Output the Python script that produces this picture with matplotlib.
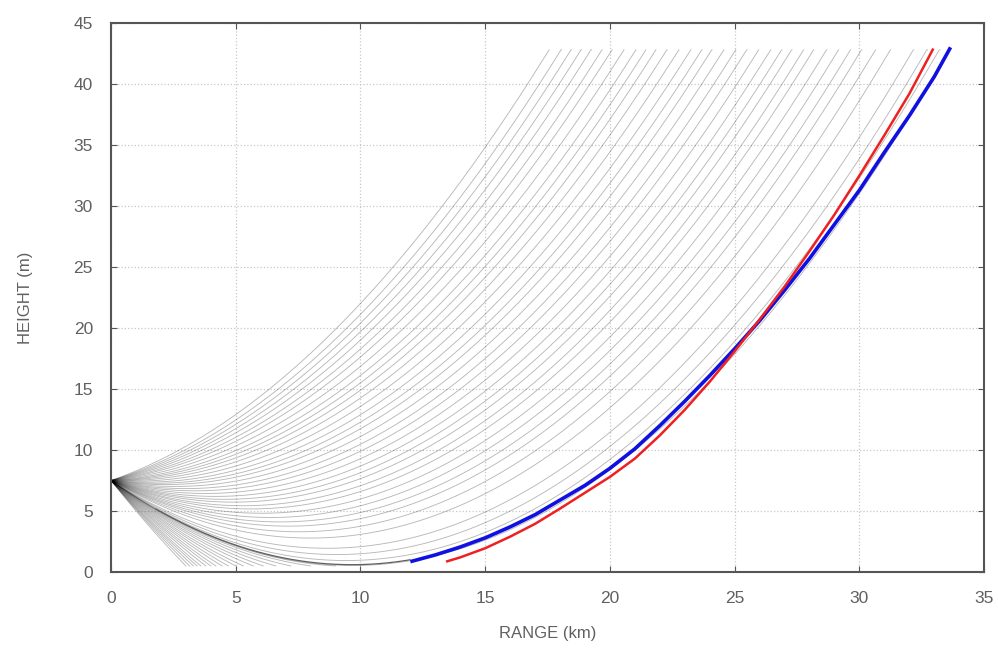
import numpy as np
import matplotlib.pyplot as plt

plt.rcParams['font.family'] = ['Liberation Sans', 'DejaVu Sans']

# ray fan parameters
h_antenna = 7.5        # m, launch height
h_ground = 0.5         # m, rays stop here
h_top = 42.8           # m, rays stop here
curv = 0.074           # m/km^2, apparent ray curvature (effective earth)

# range (km) where each upward ray reaches the top of the plot
top_end_km = [17.56, 18.04, 18.44, 18.84, 19.24, 19.68, 20.08, 20.56, 21.04,
              21.44, 21.84, 22.28, 22.76, 23.24, 23.68, 24.08, 24.56, 25.04,
              25.48, 25.96, 26.44, 26.88, 27.28, 27.76, 28.16, 28.68, 29.16,
              29.64, 30.08, 30.64, 31.24, 32.16, 32.7, 33.2, 33.6]

# range (km) where each downward ray hits the ground
ground_hit_km = [3.0, 3.15, 3.3, 3.45, 3.6, 3.8, 4.0, 4.2, 4.45, 4.7, 5.0,
                 5.3, 5.7, 6.1, 6.6, 7.2, 8.0, 9.0]

# highlighted rays
blue_x = [12.0, 13.0, 14.0, 15.0, 16.0, 17.0, 18.0, 19.0, 20.0, 21.0, 22.0,
          23.0, 24.0, 25.0, 26.0, 27.0, 28.0, 29.0, 30.0, 31.0, 32.0, 33.0, 33.65]
blue_h = [0.85, 1.4, 2.05, 2.8, 3.7, 4.7, 5.9, 7.1, 8.5, 10.1, 12.0,
          14.0, 16.1, 18.3, 20.6, 23.1, 25.7, 28.5, 31.3, 34.4, 37.4, 40.6, 43.0]
red_x = [13.43, 14.0, 15.0, 16.0, 17.0, 18.0, 19.0, 20.0, 21.0, 22.0, 23.0,
         24.0, 25.0, 26.0, 27.0, 28.0, 29.0, 30.0, 31.0, 32.0, 32.96]
red_h = [0.85, 1.2, 1.95, 2.9, 3.95, 5.2, 6.5, 7.8, 9.3, 11.2, 13.3,
         15.6, 18.1, 20.7, 23.4, 26.3, 29.3, 32.5, 35.8, 39.2, 42.9]

fig = plt.figure(figsize=(9.98, 6.55), dpi=100)
ax = fig.add_axes([0.1112, 0.1267, 0.875, 0.8383])

x = np.linspace(0, 35, 1400)

def ray(slope):
    h = h_antenna + slope * x + curv * x ** 2
    # cut the ray where it leaves the plot or touches the ground
    bad = (h > h_top) | (h < h_ground)
    if bad.any():
        stop = np.argmax(bad)
        return x[:stop + 1], np.clip(h[:stop + 1], h_ground, h_top)
    return x, h

for X in top_end_km:
    a = (h_top - h_antenna - curv * X ** 2) / X
    xs, hs = ray(a)
    ax.plot(xs, hs, color='black', alpha=0.28, lw=0.65)

for G in ground_hit_km:
    a = (h_ground - h_antenna - curv * G ** 2) / G
    xs, hs = ray(a)
    ax.plot(xs, hs, color='black', alpha=0.28, lw=0.65)

# darker grazing ray
a_t = -2 * np.sqrt(curv * (h_antenna - 0.6))
xg = x[(x >= 1.8) & (x <= 12.0)]
ax.plot(xg, h_antenna + a_t * xg + curv * xg ** 2, color='#606060', lw=0.9)

ax.plot(blue_x, blue_h, color='#1010e0', lw=2.6, solid_capstyle='butt')
ax.plot(red_x, red_h, color='#ee2020', lw=1.8, solid_capstyle='butt')

ax.set_xlim(0, 35)
ax.set_ylim(0, 45)
ax.set_xticks(np.arange(0, 36, 5))
ax.set_yticks(np.arange(0, 46, 5))
ax.grid(True, ls=':', color='#c8c8c8', lw=0.9)
ax.tick_params(direction='in', top=True, right=True, length=4,
               colors='#555555', labelsize=12.5, labelcolor='#606060')
ax.tick_params(axis='x', pad=14)
ax.tick_params(axis='y', pad=13)
for s in ax.spines.values():
    s.set_color('#555555')
    s.set_linewidth(1.5)

ax.set_xlabel('RANGE (km)', fontsize=12, color='#606060', labelpad=14)
ax.set_ylabel('HEIGHT (m)', fontsize=12, color='#606060', labelpad=29)

fig.savefig('out.png', dpi=100)
